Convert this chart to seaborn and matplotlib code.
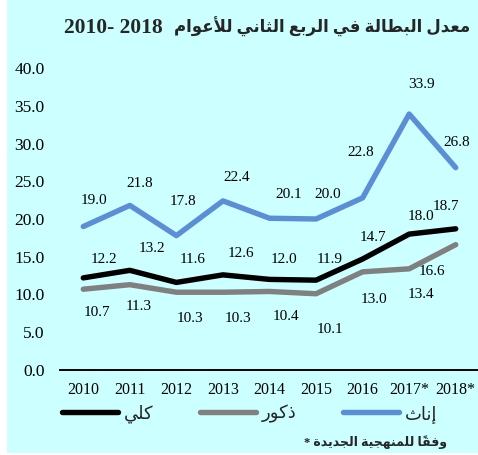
import numpy as np
import pandas as pd
import matplotlib
matplotlib.use('Agg')
import matplotlib.pyplot as plt
from matplotlib.patches import Rectangle
import seaborn as sns

# data
years = ['2010', '2011', '2012', '2013', '2014', '2015', '2016', '2017*', '2018*']
total = [12.2, 13.2, 11.6, 12.6, 12.0, 11.9, 14.7, 18.0, 18.7]
males = [10.7, 11.3, 10.3, 10.3, 10.4, 10.1, 13.0, 13.4, 16.6]
females = [19.0, 21.8, 17.8, 22.4, 20.1, 20.0, 22.8, 33.9, 26.8]
series_names = ['كلي', 'ذكور', 'إناث']
title_ar = 'معدل البطالة في الربع الثاني للأعوام'
title_years = '2010- 2018'
note_ar = 'وفقاً للمنهجية الجديدة'

colors = {'كلي': '#000000', 'ذكور': '#808080', 'إناث': '#5B8ED6'}

# label offsets in pixels (dx, dy), dy positive = up
lab_off = {
    'إناث': [(11, 26), (10, 22), (7, 34), (14, 23), (19, 24), (12, 25), (-2, 45), (12, 30), (1, 25)],
    'كلي': [(21, 18), (22, 22), (16, 23), (18, 21), (14, 20), (14, 21), (10, 22), (12, 18), (-10, 22)],
    'ذكور': [(14, -23), (9, -22), (14, -26), (15, -26), (16, -25), (14, -36), (11, -28), (12, -26), (-24, -27)],
}

# --- minimal arabic shaping (matplotlib does no bidi/joining) ---
# (isolated, final, initial, medial)
FORMS = {
    'ا': ('\uFE8D', '\uFE8E', None, None),
    'أ': ('\uFE83', '\uFE84', None, None),
    'إ': ('\uFE87', '\uFE88', None, None),
    'ب': ('\uFE8F', '\uFE90', '\uFE91', '\uFE92'),
    'ة': ('\uFE93', '\uFE94', None, None),
    'ت': ('\uFE95', '\uFE96', '\uFE97', '\uFE98'),
    'ث': ('\uFE99', '\uFE9A', '\uFE9B', '\uFE9C'),
    'ج': ('\uFE9D', '\uFE9E', '\uFE9F', '\uFEA0'),
    'د': ('\uFEA9', '\uFEAA', None, None),
    'ذ': ('\uFEAB', '\uFEAC', None, None),
    'ر': ('\uFEAD', '\uFEAE', None, None),
    'ط': ('\uFEC1', '\uFEC2', '\uFEC3', '\uFEC4'),
    'ع': ('\uFEC9', '\uFECA', '\uFECB', '\uFECC'),
    'ف': ('\uFED1', '\uFED2', '\uFED3', '\uFED4'),
    'ق': ('\uFED5', '\uFED6', '\uFED7', '\uFED8'),
    'ك': ('\uFED9', '\uFEDA', '\uFEDB', '\uFEDC'),
    'ل': ('\uFEDD', '\uFEDE', '\uFEDF', '\uFEE0'),
    'م': ('\uFEE1', '\uFEE2', '\uFEE3', '\uFEE4'),
    'ن': ('\uFEE5', '\uFEE6', '\uFEE7', '\uFEE8'),
    'ه': ('\uFEE9', '\uFEEA', '\uFEEB', '\uFEEC'),
    'و': ('\uFEED', '\uFEEE', None, None),
    'ي': ('\uFEF1', '\uFEF2', '\uFEF3', '\uFEF4'),
    'لا': ('\uFEFB', '\uFEFC', None, None),
    'لأ': ('\uFEF7', '\uFEF8', None, None),
    'لإ': ('\uFEF9', '\uFEFA', None, None),
}
MARKS = '\u064B\u064C\u064D\u064E\u064F\u0650\u0651\u0652'


def shape(text):
    toks = []
    i = 0
    while i < len(text):
        c = text[i]
        if c in MARKS and toks:
            toks[-1][1] += c
            i += 1
            continue
        if c == 'ل' and i + 1 < len(text) and text[i + 1] in 'اأإ':
            toks.append(['ل' + text[i + 1], ''])
            i += 2
            continue
        toks.append([c, ''])
        i += 1
    out = []
    n = len(toks)
    for j, (k, m) in enumerate(toks):
        if k not in FORMS:
            out.append(k + m)
            continue
        prev_j = j > 0 and toks[j - 1][0] in FORMS and FORMS[toks[j - 1][0]][2] is not None
        next_j = FORMS[k][2] is not None and j + 1 < n and toks[j + 1][0] in FORMS
        if prev_j and next_j:
            g = FORMS[k][3]
        elif prev_j:
            g = FORMS[k][1]
        elif next_j:
            g = FORMS[k][2]
        else:
            g = FORMS[k][0]
        out.append(g + m)
    return ''.join(reversed(out))


sns.set_theme(style='white')
fams = ['Liberation Serif', 'DejaVu Sans']
plt.rcParams['font.family'] = fams

df = pd.DataFrame({
    'pos': list(range(len(years))) * 3,
    'value': total + males + females,
    'series': [series_names[0]] * len(years) + [series_names[1]] * len(years) + [series_names[2]] * len(years),
})

fig = plt.figure(figsize=(4.78, 4.55), dpi=100, facecolor='white')
fig.patches.append(Rectangle((7 / 478, 2 / 455), 1, 1, transform=fig.transFigure,
                             facecolor='#CCFFFF', edgecolor='none', zorder=-5))
ax = fig.add_axes([60 / 478, (455 - 370) / 455, 419 / 478, 302 / 455])
ax.set_facecolor('none')

sns.lineplot(data=df, x='pos', y='value', hue='series', hue_order=series_names,
             palette=colors, linewidth=3.9, solid_capstyle='round', legend=False, ax=ax)

vals = {'كلي': total, 'ذكور': males, 'إناث': females}
for name in series_names:
    for i, v in enumerate(vals[name]):
        dx, dy = lab_off[name][i]
        ax.annotate(f'{v:.1f}', (i, v), xytext=(dx, dy), textcoords='offset pixels',
                    ha='center', va='center', fontsize=11, color='black', family=fams)

ax.set_xlim(-0.5, len(years) - 0.5)
ax.set_ylim(0, 40)
ax.set_yticks(np.arange(0, 40.1, 5))
ax.set_yticklabels([f'{t:.1f}' for t in np.arange(0, 40.1, 5)], fontsize=12.5)
ax.set_xticks(range(len(years)))
ax.set_xticklabels(years, fontsize=11.5)
ax.set_xticks(np.arange(-0.5, len(years), 1), minor=True)
ax.tick_params(axis='x', which='major', length=0, pad=9, colors='black')
ax.tick_params(axis='x', which='minor', length=5, width=1.3, direction='out', color='black')
ax.tick_params(axis='y', length=0, pad=11, colors='black')
ax.set_xlabel('')
ax.set_ylabel('')
for s in ['left', 'right', 'top']:
    ax.spines[s].set_visible(False)
ax.spines['bottom'].set_color('black')
ax.spines['bottom'].set_linewidth(1.4)
ax.grid(False)

handles = ax.get_lines()[:3]
fig.legend(handles, [shape(s) for s in series_names], loc='center left',
           bbox_to_anchor=(62 / 478, 1 - 414 / 455), ncol=3, frameon=False,
           prop={'family': fams, 'size': 13}, handlelength=3.1, handletextpad=0.3,
           columnspacing=2.6, borderpad=0, borderaxespad=0)

# title: latin years on the left, arabic text to the right
fig.text(64 / 478, 1 - 28 / 455, title_years, ha='left', va='center',
         fontsize=15.5, fontweight='bold', family='Liberation Serif')
fig.text(470 / 478, 1 - 27 / 455, shape(title_ar), ha='right', va='center',
         fontsize=12, fontweight='bold', family=fams)
fig.text(447 / 478, 1 - 442 / 455, '* ' + shape(note_ar), ha='right', va='center',
         fontsize=9, fontweight='bold', family=fams)

fig.savefig('out.png', dpi=100, facecolor=fig.get_facecolor())
